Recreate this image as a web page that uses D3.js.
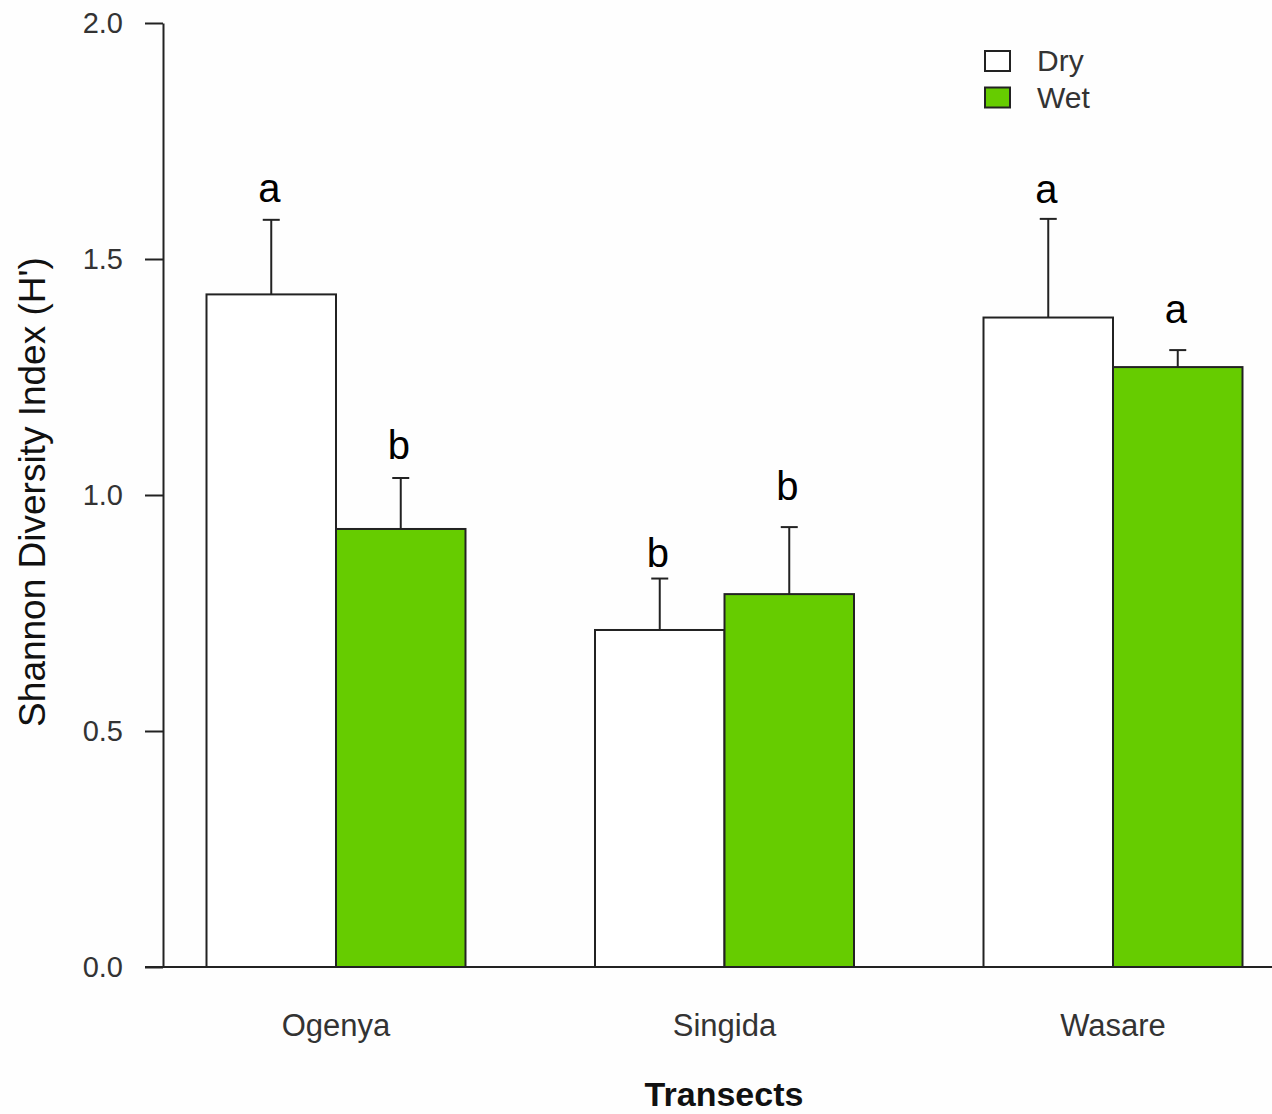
<!DOCTYPE html>
<html>
<head>
<meta charset="utf-8">
<script src="https://cdn.jsdelivr.net/npm/d3@7/dist/d3.min.js"></script>
<style>
  html, body { margin: 0; padding: 0; background: #fefefe; }
  svg { display: block; }
  text { font-family: Arial, "Liberation Sans", sans-serif; }
</style>
</head>
<body>
<svg id="chart" width="1272" height="1114"></svg>
<script>
// Shannon diversity (H') per transect and season, mean with standard error
const transects = ["Ogenya", "Singida", "Wasare"];
const seasons = ["Dry", "Wet"];
const dryMean = [1.425, 0.714, 1.376];
const drySE   = [0.158, 0.109, 0.209];
const wetMean = [0.928, 0.790, 1.271];
const wetSE   = [0.108, 0.142, 0.036];
// Significance letters and the H' level where each one sits
const dryLetters = ["a", "b", "a"];
const dryLetterAt = [1.621, 0.848, 1.619];
const wetLetters = ["b", "b", "a"];
const wetLetterAt = [1.076, 0.989, 1.364];
const yTicks = [0, 0.5, 1.0, 1.5, 2.0];
const seasonFill = { Dry: "#ffffff", Wet: "#66cc00" };

const rows = [];
transects.forEach((t, i) => {
  rows.push({ transect: t, season: "Dry", mean: dryMean[i], se: drySE[i], letter: dryLetters[i], letterAt: dryLetterAt[i] });
  rows.push({ transect: t, season: "Wet", mean: wetMean[i], se: wetSE[i], letter: wetLetters[i], letterAt: wetLetterAt[i] });
});

const svg = d3.select("#chart");
const ink = "#222";

const x = d3.scaleBand().domain(transects).range([141.75, 1307.25])
  .paddingInner(1 / 3).paddingOuter(1 / 6);
const xs = d3.scaleBand().domain(seasons).range([0, x.bandwidth()]).padding(0);
const y = d3.scaleLinear().domain([0, 2]).range([967, 23]);

// Bars
const bars = svg.append("g");
bars.selectAll("rect").data(rows).join("rect")
  .attr("x", d => x(d.transect) + xs(d.season))
  .attr("y", d => y(d.mean))
  .attr("width", xs.bandwidth())
  .attr("height", d => y(0) - y(d.mean))
  .attr("fill", d => seasonFill[d.season])
  .attr("stroke", ink)
  .attr("stroke-width", 2);

// Error bars (upper whisker only)
const cx = d => x(d.transect) + xs(d.season) + xs.bandwidth() / 2;
const err = svg.append("g").attr("stroke", ink).attr("stroke-width", 2);
err.selectAll("line.v").data(rows).join("line").attr("class", "v")
  .attr("x1", cx).attr("x2", cx)
  .attr("y1", d => y(d.mean)).attr("y2", d => y(d.mean + d.se));
err.selectAll("line.c").data(rows).join("line").attr("class", "c")
  .attr("x1", d => cx(d) - 8.5).attr("x2", d => cx(d) + 8.5)
  .attr("y1", d => y(d.mean + d.se)).attr("y2", d => y(d.mean + d.se));

// Letters
svg.append("g").selectAll("text").data(rows).join("text")
  .attr("x", d => cx(d) - 2)
  .attr("y", d => y(d.letterAt))
  .attr("text-anchor", "middle")
  .attr("font-size", 40)
  .attr("fill", "#000")
  .text(d => d.letter);

// Y axis
const yAxis = svg.append("g").attr("transform", "translate(163,0)")
  .call(d3.axisLeft(y).tickValues(yTicks).tickFormat(d3.format(".1f"))
    .tickSize(18).tickSizeOuter(0).tickPadding(22));
yAxis.select(".domain").attr("stroke", ink).attr("stroke-width", 2);
yAxis.selectAll(".tick line").attr("stroke", ink).attr("stroke-width", 2);
yAxis.selectAll(".tick text").attr("font-size", 29).attr("fill", "#333")
  .attr("font-family", "Arial, 'Liberation Sans', sans-serif");

// X axis baseline and category labels
svg.append("line").attr("x1", 145).attr("x2", 1272)
  .attr("y1", y(0)).attr("y2", y(0))
  .attr("stroke", ink).attr("stroke-width", 2);
const xAxis = svg.append("g").attr("transform", `translate(0,${y(0)})`)
  .call(d3.axisBottom(x).tickSize(0).tickPadding(0));
xAxis.select(".domain").remove();
xAxis.selectAll(".tick text")
  .attr("y", 69).attr("dy", 0)
  .attr("font-size", 31).attr("fill", "#333")
  .attr("font-family", "Arial, 'Liberation Sans', sans-serif");

// Axis titles
svg.append("text").attr("x", 724).attr("y", 1106)
  .attr("text-anchor", "middle").attr("font-size", 34).attr("font-weight", "bold")
  .attr("fill", "#111").text("Transects");
svg.append("text")
  .attr("transform", "translate(45,492) rotate(-90)")
  .attr("text-anchor", "middle").attr("font-size", 37).attr("fill", "#111")
  .text("Shannon Diversity Index (H')");

// Legend
const legend = svg.append("g");
seasons.forEach((s, i) => {
  const g = legend.append("g").attr("transform", `translate(985,${51 + i * 36.5})`);
  g.append("rect").attr("width", 25).attr("height", 20)
    .attr("fill", seasonFill[s]).attr("stroke", ink).attr("stroke-width", 2);
  g.append("text").attr("x", 52).attr("y", 20).attr("font-size", 30)
    .attr("fill", "#333").text(s);
});
</script>
</body>
</html>
